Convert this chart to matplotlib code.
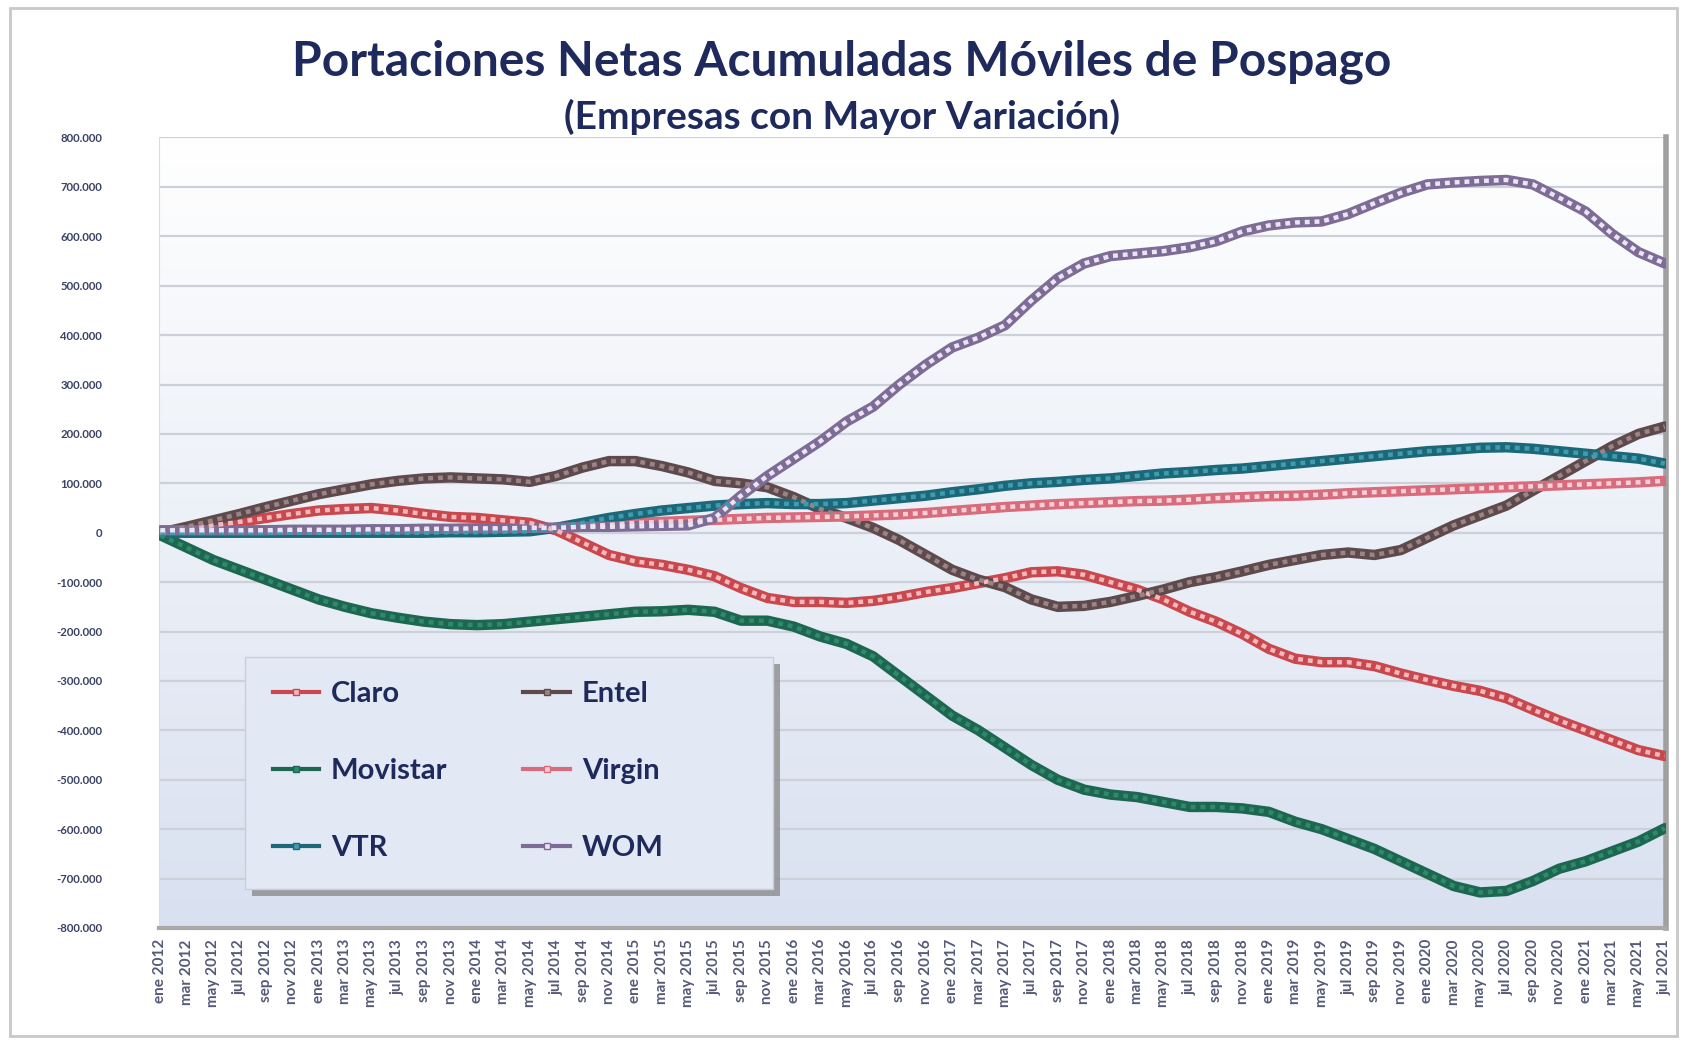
import numpy as np
import matplotlib.pyplot as plt
from matplotlib.lines import Line2D
from matplotlib.patches import Rectangle
from matplotlib.ticker import FuncFormatter

plt.rcParams['font.family'] = ['Lato', 'DejaVu Sans']

# bimonthly labels, ene 2012 .. jul 2021
MESES = ["ene", "mar", "may", "jul", "sep", "nov"]
ETIQUETAS = [f"{MESES[i % 6]} {2012 + i // 6}" for i in range(58)]

# cumulative net portings (thousands)
claro = [0, 8, 15, 22, 30, 38, 45, 48, 50, 45, 38, 32, 30, 25, 20, 5, -20, -45, -58, -65,
         -75, -88, -112, -132, -140, -140, -142, -138, -130, -120, -112, -102, -92, -80, -78, -85, -100, -115, -135, -160,
         -180, -205, -235, -255, -262, -262, -270, -285, -298, -310, -320, -335, -358, -380, -400, -420, -440, -452]
entel = [0, 12, 25, 38, 52, 65, 78, 88, 98, 105, 110, 112, 110, 108, 103, 115, 132, 145, 145, 135,
         122, 105, 100, 92, 72, 48, 30, 10, -15, -45, -75, -95, -110, -135, -150, -148, -140, -128, -115, -100,
         -90, -78, -65, -55, -45, -40, -45, -35, -10, 15, 35, 55, 85, 115, 145, 175, 200, 215]
movistar = [-5, -30, -55, -75, -95, -115, -135, -150, -163, -172, -180, -185, -187, -185, -180, -175, -170, -165, -160, -159,
            -156, -160, -178, -178, -190, -210, -225, -250, -290, -330, -370, -400, -435, -470, -500, -520, -530, -535, -545, -555,
            -555, -558, -565, -585, -600, -620, -640, -665, -690, -715, -728, -725, -705, -680, -665, -645, -625, -598]
virgin = [0, 1, 1, 2, 2, 3, 3, 4, 4, 5, 5, 6, 6, 7, 8, 10, 13, 16, 20, 22,
          24, 26, 28, 30, 31, 32, 33, 35, 37, 40, 44, 48, 52, 55, 58, 60, 62, 64, 65, 67,
          70, 72, 74, 75, 77, 80, 82, 84, 86, 88, 90, 92, 94, 96, 98, 100, 102, 105]
vtr = [0, 0, 0, 0, 0, 0, 0, 0, 0, 0, 0, 1, 1, 2, 3, 10, 20, 30, 38, 45,
       50, 55, 58, 60, 58, 58, 60, 65, 70, 75, 82, 88, 95, 100, 103, 107, 110, 115, 120, 123,
       127, 130, 135, 140, 145, 150, 155, 160, 165, 168, 172, 173, 170, 165, 160, 155, 150, 140]
wom = [5, 5, 5, 5, 5, 6, 6, 6, 7, 7, 8, 8, 9, 9, 10, 10, 12, 12, 13, 14,
       15, 30, 75, 115, 150, 185, 225, 255, 300, 340, 375, 395, 420, 470, 515, 545, 560, 565, 570, 578,
       590, 610, 622, 628, 630, 645, 667, 688, 705, 709, 712, 714, 705, 678, 650, 605, 568, 545]

series = [
    ("Claro", claro, "#c8484e", "#f6b8bc"),
    ("Entel", entel, "#5e4a4c", "#9a8486"),
    ("Movistar", movistar, "#1d6650", "#2f8a6c"),
    ("Virgin", virgin, "#d86c7c", "#fad0d8"),
    ("VTR", vtr, "#1c6878", "#3f9cb0"),
    ("WOM", wom, "#7d6c96", "#ece4f4"),
]

fig = plt.figure(figsize=(16.84, 10.40), dpi=100)
fig.patches.append(Rectangle((0.006, 0.004), 0.99, 0.988, transform=fig.transFigure,
                             fill=False, edgecolor="#c8c8c8", linewidth=2))
ax = fig.add_axes([0.0944, 0.1077, 0.895, 0.7601])

# background gradient of the plot area
grad = np.linspace(0, 1, 256).reshape(-1, 1)
top = np.array([1.0, 1.0, 1.0])
bot = np.array([0.85, 0.88, 0.94])
img = top + (bot - top) * grad[..., None]
ax.imshow(img, extent=[0, 1, 0, 1], transform=ax.transAxes, aspect="auto", zorder=0)

x = np.arange(len(ETIQUETAS))
for name, vals, dark, light in series:
    y = np.array(vals) * 1000
    ax.plot(x, y, color=dark, lw=7.5, solid_capstyle="round", zorder=3)
    ax.plot(x, y, color=light, lw=3.2, dashes=(1.1, 1.1), zorder=4)

ax.set_xlim(-0.05, 57.05)
ax.set_ylim(-800000, 800000)
ax.set_yticks(np.arange(-800000, 800001, 100000))
ax.yaxis.set_major_formatter(FuncFormatter(lambda v, p: f"{v:,.0f}".replace(",", ".")))
ax.grid(axis="y", color="#ccd0d8", lw=1.6, zorder=1)
ax.set_axisbelow(True)

ax.set_xticks(x)
ax.set_xticklabels(ETIQUETAS, rotation=90, fontsize=11, fontweight="bold", color="#555a78")
ax.tick_params(axis="y", labelsize=8.2, labelcolor="#3a4266", length=0, pad=41)
ax.tick_params(axis="x", length=0, pad=8)
for lbl in ax.get_yticklabels():
    lbl.set_fontweight("bold")

ax.spines["top"].set_visible(False)
ax.spines["left"].set_color("#d8dce4")
ax.spines["bottom"].set_color("#a8a8a8")
ax.spines["bottom"].set_linewidth(3)
ax.spines["right"].set_color("#a0a0a0")
ax.spines["right"].set_linewidth(4)

fig.text(0.5, 0.941, "Portaciones Netas Acumuladas Móviles de Pospago", ha="center", va="center",
         fontsize=34.5, fontweight="bold", color="#1f2a5c")
fig.text(0.5, 0.888, "(Empresas con Mayor Variación)", ha="center", va="center",
         fontsize=28, fontweight="bold", color="#1f2a5c")

# legend box drawn by hand (wider than the entries), with a drop shadow
W, H = 1684, 1040
bx0, bx1, by0, by1 = 245, 773, 657, 889
fig.patches.append(Rectangle(((bx0 + 7) / W, 1 - (by1 + 7) / H), (bx1 - bx0) / W, (by1 - by0) / H,
                             transform=fig.transFigure, facecolor="#8c8c8c", edgecolor="none",
                             alpha=0.8, zorder=5))
fig.patches.append(Rectangle((bx0 / W, 1 - by1 / H), (bx1 - bx0) / W, (by1 - by0) / H,
                             transform=fig.transFigure, facecolor="#e2e8f4", edgecolor="#c8cedc",
                             linewidth=1, zorder=5.5))

# legend filled row by row: Claro/Entel, Movistar/Virgin, VTR/WOM
orden = [0, 2, 4, 1, 3, 5]
handles = []
names = []
for k in orden:
    name, vals, dark, light = series[k]
    handles.append(Line2D([0], [0], color=dark, lw=3, marker="s", markersize=5,
                          markerfacecolor=light, markeredgecolor=dark))
    names.append(name)
leg = fig.legend(handles, names, ncol=2, loc="upper left",
                 bbox_to_anchor=(bx0 / W, 1 - (by0 - 4) / H), frameon=False,
                 prop={"size": 21, "weight": "bold"}, labelspacing=1.75, columnspacing=2.6,
                 handlelength=1.6, handletextpad=0.4, borderpad=0.95, borderaxespad=0)
for t in leg.get_texts():
    t.set_color("#1f2a5c")
leg.set_zorder(6)

fig.savefig("out.png", dpi=100)
